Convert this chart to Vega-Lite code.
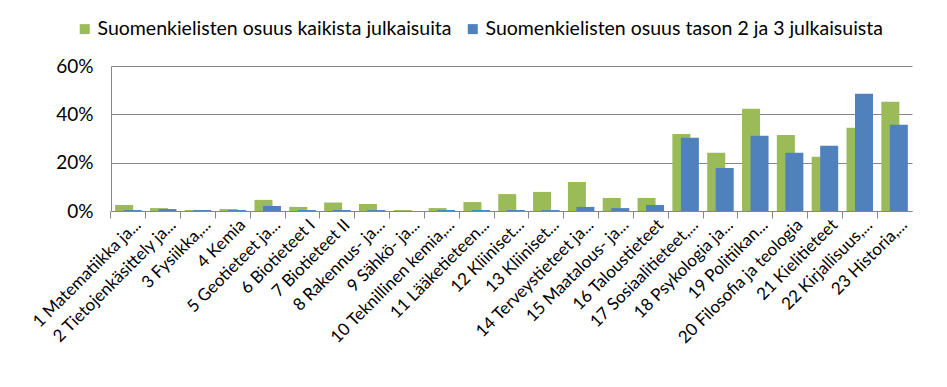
{
  "$schema": "https://vega.github.io/schema/vega-lite/v6.json",
  "width": 801,
  "height": 145,
  "autosize": "none",
  "padding": {"left": 111, "top": 66, "right": 35, "bottom": 176},
  "background": "white",
  "config": {
    "view": {"stroke": null},
    "font": "Lato"
  },
  "data": {
    "values": [
      {"category": "1 Matematiikka ja...", "all": 0.025, "lvl": 0.004},
      {"category": "2 Tietojenkäsittely ja...", "all": 0.012, "lvl": 0.008},
      {"category": "3 Fysiikka,...", "all": 0.004, "lvl": 0.004},
      {"category": "4 Kemia", "all": 0.008, "lvl": 0.004},
      {"category": "5 Geotieteet ja...", "all": 0.046, "lvl": 0.021},
      {"category": "6 Biotieteet I", "all": 0.017, "lvl": 0.004},
      {"category": "7 Biotieteet II", "all": 0.035, "lvl": 0.004},
      {"category": "8 Rakennus- ja...", "all": 0.029, "lvl": 0.004},
      {"category": "9 Sähkö- ja...", "all": 0.004, "lvl": 0.0},
      {"category": "10 Teknillinen kemia,...", "all": 0.012, "lvl": 0.004},
      {"category": "11 Lääketieteen...", "all": 0.037, "lvl": 0.004},
      {"category": "12 Kliiniset...", "all": 0.070, "lvl": 0.004},
      {"category": "13 Kliiniset...", "all": 0.079, "lvl": 0.004},
      {"category": "14 Terveystieteet ja...", "all": 0.120, "lvl": 0.017},
      {"category": "15 Maatalous- ja...", "all": 0.054, "lvl": 0.012},
      {"category": "16 Taloustieteet", "all": 0.054, "lvl": 0.025},
      {"category": "17 Sosiaalitieteet,...", "all": 0.319, "lvl": 0.303},
      {"category": "18 Psykologia ja...", "all": 0.241, "lvl": 0.178},
      {"category": "19 Politiikan...", "all": 0.423, "lvl": 0.311},
      {"category": "20 Filosofia ja teologia", "all": 0.315, "lvl": 0.241},
      {"category": "21 Kielitieteet", "all": 0.224, "lvl": 0.270},
      {"category": "22 Kirjallisuus,...", "all": 0.344, "lvl": 0.485},
      {"category": "23 Historia,...", "all": 0.452, "lvl": 0.357}
    ]
  },
  "encoding": {
    "x": {
      "field": "category",
      "type": "nominal",
      "sort": null,
      "scale": {"paddingInner": 0, "paddingOuter": 0},
      "axis": {
        "title": null,
        "labelAngle": -45,
        "labelAlign": "right",
        "labelBaseline": "middle",
        "labelFont": "Lato",
        "labelFontSize": 17,
        "labelColor": "#000000",
        "labelLimit": 0,
        "labelOffset": 10,
        "labelPadding": 4,
        "bandPosition": 0,
        "tickColor": "#868686",
        "tickSize": 7,
        "domainColor": "#868686",
        "grid": false
      }
    }
  },
  "layer": [
    {
      "mark": {"type": "bar", "width": 18, "xOffset": -4.25},
      "encoding": {
        "y": {
          "field": "all",
          "type": "quantitative",
          "scale": {"domain": [0, 0.6]},
          "axis": {
            "title": null,
            "values": [0, 0.2, 0.4, 0.6],
            "format": ".0%",
            "labelFont": "Lato",
            "labelFontSize": 19,
            "labelColor": "#000000",
            "labelPadding": 18,
            "ticks": false,
            "domain": true,
            "domainColor": "#868686",
            "grid": true,
            "gridColor": "#868686",
            "gridOpacity": 1
          }
        },
        "color": {
          "datum": "Suomenkielisten osuus kaikista julkaisuita",
          "type": "nominal",
          "scale": {
            "domain": ["Suomenkielisten osuus kaikista julkaisuita", "Suomenkielisten osuus tason 2 ja 3 julkaisuista"],
            "range": ["#9BBB59", "#4F81BD"]
          },
          "legend": {
            "title": null,
            "orient": "none",
            "direction": "horizontal",
            "legendX": -36,
            "legendY": -47,
            "symbolType": "square",
            "symbolSize": 100,
            "symbolStrokeWidth": 0,
            "labelFont": "Lato",
            "labelFontSize": 19.5,
            "labelColor": "#000000",
            "labelLimit": 0,
            "labelOffset": 3,
            "columnPadding": 11
          }
        }
      }
    },
    {
      "mark": {"type": "bar", "width": 18, "xOffset": 4.25},
      "encoding": {
        "y": {"field": "lvl", "type": "quantitative"},
        "color": {"datum": "Suomenkielisten osuus tason 2 ja 3 julkaisuista", "type": "nominal"}
      }
    }
  ]
}
